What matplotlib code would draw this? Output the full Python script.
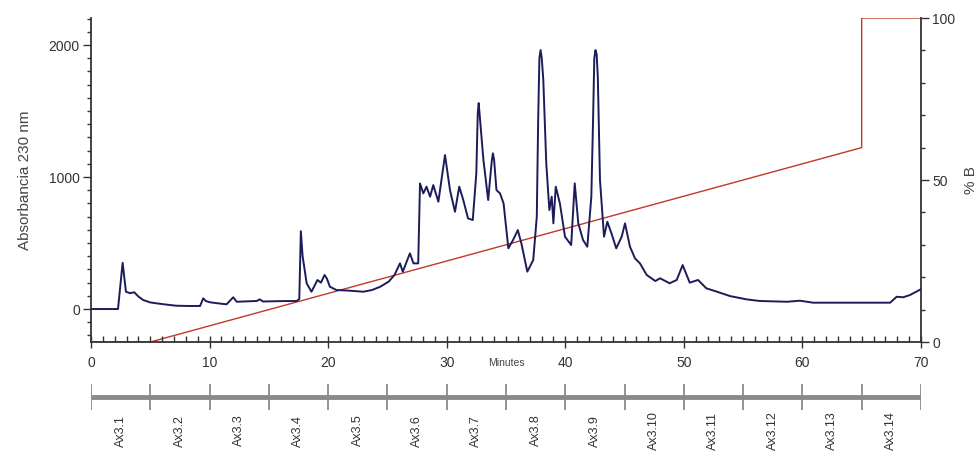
import matplotlib.pyplot as plt
from matplotlib.ticker import MultipleLocator
from matplotlib.transforms import blended_transform_factory

plt.rcParams['font.family'] = ['Liberation Sans', 'DejaVu Sans']

# chromatogram (minutes, absorbance 230 nm)
time_min = [0, 2.28, 2.5, 2.67, 2.8, 2.95, 3.3, 3.65, 4.0, 4.41, 5.0, 5.54, 6.5, 7.2, 8.3,
            9.2, 9.47, 9.7, 10.04, 11.0, 11.44, 12.0, 12.29, 13.2, 13.97, 14.25, 14.5, 16.0,
            17.35, 17.57, 17.7, 17.85, 18.19, 18.6, 19.1, 19.4, 19.7, 19.9, 20.15, 20.7,
            21.8, 22.97, 23.7, 24.4, 25.1, 25.6, 26.06, 26.3, 26.9, 27.2, 27.6, 27.75,
            28.03, 28.3, 28.6, 28.87, 29.3, 29.86, 30.28, 30.7, 31.06, 31.4, 31.8, 32.2,
            32.5, 32.62, 32.7, 32.8, 33.1, 33.5, 33.8, 33.9, 34.0, 34.2, 34.5, 34.8, 35.2,
            35.6, 36.0, 36.3, 36.8, 37.3, 37.6, 37.72, 37.82, 37.92, 38.02, 38.15, 38.4,
            38.66, 38.86, 39.0, 39.2, 39.55, 39.98, 40.5, 40.8, 41.1, 41.5, 41.86, 42.2,
            42.35, 42.45, 42.55, 42.65, 42.75, 42.93, 43.27, 43.55, 43.9, 44.3,
            44.76, 45.04, 45.46, 45.88, 46.3, 46.87, 47.6, 48.0, 48.8, 49.4, 49.9, 50.5,
            51.2, 51.9, 52.8, 53.9, 55.3, 56.4, 58.7, 59.8, 60.9, 67.4, 67.95, 68.5,
            69.07, 70]
absorb = [0, 0, 200, 350, 250, 131, 120, 127, 95, 68, 50, 43, 32, 25, 23,
          23, 81, 60, 51, 40, 36, 89, 55, 58, 61, 73, 57, 60,
          61, 75, 590, 400, 195, 131, 220, 200, 258, 230, 169, 144,
          139, 131, 144, 169, 207, 258, 346, 283, 422, 346, 346, 952,
          876, 927, 851, 939, 813, 1167, 901, 737, 927, 826, 687, 674,
          1028, 1480, 1560, 1450, 1129, 826, 1120, 1180, 1130, 901, 876, 800, 460,
          523, 598, 498, 283, 371, 699, 1450, 1900, 1962, 1900, 1735, 1104,
          750, 851, 649, 927, 800, 548, 485, 952, 649, 523, 472, 851,
          1450, 1900, 1962, 1930, 1750, 977, 548, 661, 573, 460,
          548, 649, 472, 384, 346, 258, 212, 233, 195, 220, 333, 200,
          220, 157, 131, 98, 73, 61, 55, 63, 48, 48, 93, 89,
          106, 150]

# gradient %B
grad_t = [0, 5, 65, 65, 70]
grad_b = [0, 0, 60, 100, 100]

# collected fractions
frac_edges = [0, 5, 10, 15, 20, 25, 30, 35, 40, 45, 50, 55, 60, 65, 70]
frac_names = ['Ax3.%d' % i for i in range(1, 15)]

fig = plt.figure(figsize=(9.76, 4.57), dpi=100)
ax = fig.add_axes([0.0932, 0.2516, 0.8504, 0.709])
ax2 = ax.twinx()

ax.plot(time_min, absorb, color='#1c1c5a', lw=1.4, zorder=3)
ax2.plot(grad_t, grad_b, color='#c0392b', lw=1.0)
ax.set_zorder(ax2.get_zorder() + 1)
ax.patch.set_visible(False)

ax.set_xlim(0, 70)
ax.set_ylim(-250, 2205)
ax2.set_ylim(0, 100)

spine_c = '#333333'
for a in (ax, ax2):
    a.spines['top'].set_visible(False)
    for s in a.spines.values():
        s.set_color(spine_c)
        s.set_linewidth(1.3)
ax.spines['right'].set_visible(False)
ax2.spines['left'].set_visible(False)
ax2.spines['bottom'].set_visible(False)

ax.xaxis.set_major_locator(MultipleLocator(10))
ax.xaxis.set_minor_locator(MultipleLocator(1))
ax.yaxis.set_major_locator(MultipleLocator(1000))
ax.yaxis.set_minor_locator(MultipleLocator(100))
ax2.yaxis.set_major_locator(MultipleLocator(50))
ax2.yaxis.set_minor_locator(MultipleLocator(10))

ax.tick_params(axis='x', which='major', direction='inout', length=8, width=1, colors=spine_c,
               labelsize=10, pad=6)
ax.tick_params(axis='x', which='minor', direction='in', length=4, width=1, colors=spine_c)
ax.tick_params(axis='y', which='major', length=6, width=1, colors=spine_c, labelsize=10, pad=2)
ax.tick_params(axis='y', which='minor', length=3, width=1, colors=spine_c)
ax2.tick_params(axis='y', which='major', length=6, width=1, colors=spine_c, labelsize=10, pad=2)
ax2.tick_params(axis='y', which='minor', length=3, width=1, colors=spine_c)
for lab in ax.get_xticklabels() + ax.get_yticklabels() + ax2.get_yticklabels():
    lab.set_color('#333333')

ax.set_ylabel('Absorbancia 230 nm', fontsize=11, color='#444444', labelpad=12)
ax2.set_ylabel('% B', fontsize=11, color='#444444', labelpad=6)

trans = blended_transform_factory(ax.transData, ax.transAxes)
ax.text(35, -0.065, 'Minutes', transform=trans, ha='center', va='center', fontsize=7.5,
        color='#444444')

# fraction bar
axf = fig.add_axes([0.0932, 0.0, 0.8504, 0.17])
axf.set_xlim(0, 70)
axf.set_ylim(0, 1)
axf.axis('off')
axf.hlines(0.77, 0, 70, color='#8a8a8a', lw=3.5)
axf.vlines(frac_edges, 0.6, 0.94, color='#8a8a8a', lw=1.3)
for i, name in enumerate(frac_names):
    mid = (frac_edges[i] + frac_edges[i + 1]) / 2
    axf.text(mid, 0.34, name, rotation=90, ha='center', va='center', fontsize=9,
             color='#333333')

fig.savefig('out.png', dpi=100)
